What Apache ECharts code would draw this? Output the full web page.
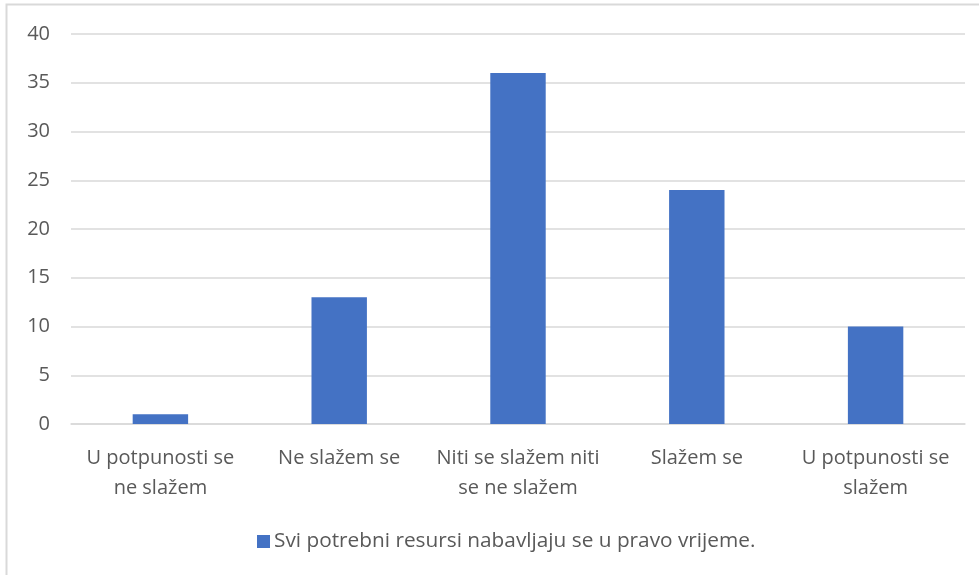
<!DOCTYPE html>
<html>
<head>
<meta charset="utf-8">
<script src="https://cdn.jsdelivr.net/npm/echarts@6/dist/echarts.min.js"></script>
<style>
  html, body { margin: 0; padding: 0; background: #fff; }
  #chart { width: 979px; height: 575px; }
</style>
</head>
<body>
<div id="chart"></div>
<script>
  // answer categories (x axis)
  const categories = [
    'U potpunosti se\nne slažem',
    'Ne slažem se',
    'Niti se slažem niti\nse ne slažem',
    'Slažem se',
    'U potpunosti se\nslažem'
  ]
  const seriesName = 'Svi potrebni resursi nabavljaju se u pravo vrijeme.'
  const counts = [1, 13, 36, 24, 10]
  const titleText = 'Svi potrebni resursi nabavljaju se u pravo vrijeme'

  const labelFont = "'Open Sans', 'Liberation Sans', sans-serif"

  const chart = echarts.init(document.getElementById('chart'))
  chart.setOption({
    animation: false,
    backgroundColor: '#fff',
    graphic: [
      {
        // outer frame of the chart area (top + left edges visible)
        type: 'polyline',
        shape: { points: [[6.5, 575], [6.5, 4.5], [979, 4.5]] },
        style: { stroke: '#d9d9d9', lineWidth: 2, fill: null },
        silent: true,
        z: 10
      },
      {
        // heading, cut off at the top in the source picture
        type: 'text',
        left: 305,
        top: -20,
        style: {
          text: titleText,
          font: "bold 20px 'Liberation Serif', 'DejaVu Serif', serif",
          fill: '#000'
        },
        silent: true
      }
    ],
    grid: {
      left: 71,
      right: 14,
      top: 34,
      bottom: 151
    },
    legend: {
      left: 252,
      top: 526,
      itemWidth: 13,
      itemHeight: 13,
      itemGap: 10,
      icon: 'rect',
      textStyle: {
        color: '#595959',
        fontSize: 20.8,
        fontFamily: labelFont,
        padding: [0, 0, 0, -1]
      }
    },
    xAxis: {
      type: 'category',
      data: categories,
      axisLine: { lineStyle: { color: '#d9d9d9', width: 1.5 } },
      axisTick: { show: false },
      axisLabel: {
        color: '#595959',
        fontSize: 20,
        fontFamily: labelFont,
        lineHeight: 30,
        margin: 19,
        interval: 0
      }
    },
    yAxis: {
      type: 'value',
      min: 0,
      max: 40,
      interval: 5,
      axisLine: { show: false },
      axisTick: { show: false },
      splitLine: { lineStyle: { color: '#d9d9d9', width: 1.5 } },
      axisLabel: {
        color: '#595959',
        fontSize: 20,
        fontFamily: labelFont,
        margin: 21
      }
    },
    series: [{
      name: seriesName,
      type: 'bar',
      data: counts,
      barWidth: '31%',
      itemStyle: { color: '#4472c4' }
    }]
  })
</script>
</body>
</html>
